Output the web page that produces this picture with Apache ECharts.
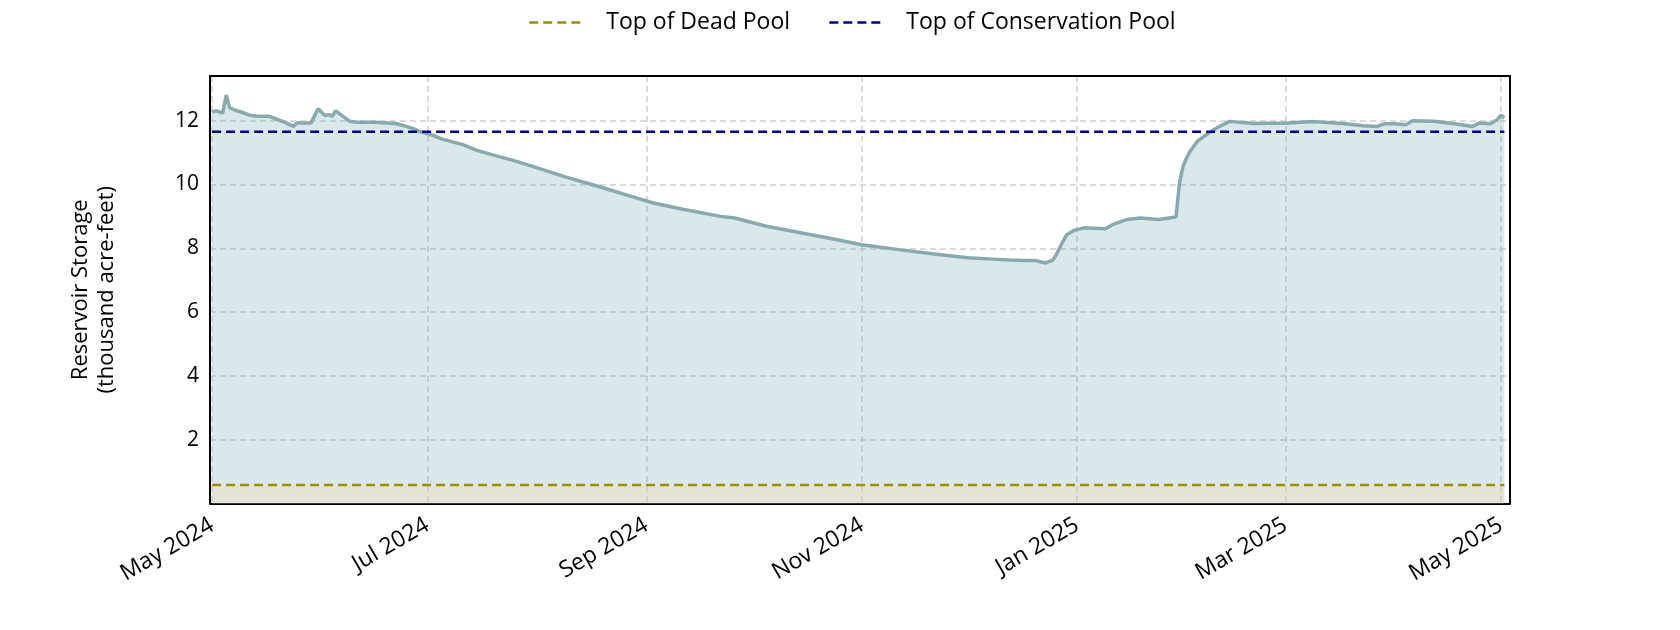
<!DOCTYPE html>
<html>
<head>
<meta charset="utf-8">
<script src="https://cdn.jsdelivr.net/npm/echarts@6/dist/echarts.min.js"></script>
<style>
html,body{margin:0;padding:0;background:#fff;}
#chart{width:1680px;height:630px;}
</style>
</head>
<body>
<div id="chart"></div>
<script>
// ---- data ----
const dates = [
 '2024-05-01','2024-05-02','2024-05-04','2024-05-05','2024-05-06','2024-05-08','2024-05-09','2024-05-12','2024-05-14','2024-05-17',
 '2024-05-19','2024-05-22','2024-05-24','2024-05-25','2024-05-29','2024-05-31','2024-06-02','2024-06-03','2024-06-04','2024-06-05',
 '2024-06-07','2024-06-09','2024-06-11','2024-06-16','2024-06-22','2024-06-25','2024-06-27','2024-06-29','2024-07-02','2024-07-05',
 '2024-07-11','2024-07-15','2024-07-21','2024-07-26','2024-08-02','2024-08-09','2024-08-19','2024-08-27','2024-09-03','2024-09-11',
 '2024-09-22','2024-09-26','2024-10-05','2024-10-15','2024-10-24','2024-11-01','2024-11-12','2024-11-21','2024-11-29','2024-12-01',
 '2024-12-08','2024-12-13','2024-12-17','2024-12-20','2024-12-23','2024-12-25','2024-12-26','2024-12-27','2024-12-29','2024-12-31',
 '2025-01-03','2025-01-09','2025-01-11','2025-01-15','2025-01-19','2025-01-24','2025-01-29','2025-01-30','2025-01-31','2025-02-01',
 '2025-02-02','2025-02-04','2025-02-07','2025-02-08','2025-02-10','2025-02-13','2025-02-14','2025-02-20','2025-02-24','2025-03-01',
 '2025-03-04','2025-03-09','2025-03-13','2025-03-18','2025-03-23','2025-03-27','2025-03-29','2025-04-01','2025-04-04','2025-04-06',
 '2025-04-12','2025-04-18','2025-04-23','2025-04-25','2025-04-28','2025-04-30','2025-05-01','2025-05-02'
];
const storage = [
 12.27,12.31,12.24,12.80,12.40,12.31,12.28,12.16,12.14,12.14,
 12.06,11.93,11.82,11.93,11.93,12.37,12.16,12.19,12.14,12.31,
 12.14,11.98,11.95,11.95,11.91,11.82,11.75,11.65,11.56,11.43,
 11.25,11.07,10.88,10.73,10.49,10.24,9.92,9.65,9.42,9.23,
 9.00,8.95,8.69,8.48,8.29,8.11,7.95,7.83,7.73,7.70,
 7.66,7.63,7.62,7.62,7.54,7.62,7.78,8.01,8.42,8.56,
 8.64,8.61,8.74,8.90,8.95,8.90,8.98,10.05,10.57,10.83,
 11.04,11.35,11.59,11.67,11.80,11.97,11.97,11.91,11.92,11.92,
 11.94,11.97,11.94,11.90,11.84,11.82,11.90,11.90,11.87,12.00,
 11.98,11.90,11.82,11.93,11.90,12.03,12.17,12.09
];
const deadPool = 0.58;
const conservationPool = 11.65;
const tickDates = ['2024-05-01','2024-07-01','2024-09-01','2024-11-01','2025-01-01','2025-03-01','2025-05-01'];
const yTicks = [2,4,6,8,10,12];
const legendNames = ['Top of Dead Pool','Top of Conservation Pool'];
const yTitle = 'Reservoir Storage\n(thousand acre-feet)';

// ---- build ----
function ts(s){ const p = s.split('-').map(Number); return new Date(p[0], p[1]-1, p[2]).getTime(); }
const DAY = 86400000;
const xMin = ts(dates[0]) - 0.6*DAY;
const xMax = ts(dates[dates.length-1]) + 1.6*DAY;
const storageData = dates.map((d,i)=>[ts(d), storage[i]]);
const first = ts(dates[0]), last = ts(dates[dates.length-1]);
const tickVals = tickDates.map(ts);
const MON = ['Jan','Feb','Mar','Apr','May','Jun','Jul','Aug','Sep','Oct','Nov','Dec'];
const FONT = 'Open Sans';

const chart = echarts.init(document.getElementById('chart'));
chart.setOption({
  animation:false,
  backgroundColor:'#fff',
  textStyle:{fontFamily:FONT},
  legend:{
    top:6, left:523, itemGap:38, itemWidth:56, itemHeight:14,
    itemStyle:{opacity:0},
    lineStyle:{width:2.5},
    textStyle:{fontSize:23, color:'#000', fontFamily:FONT, padding:[0,0,0,16]},
    data:legendNames
  },
  grid:{left:210, right:170, top:76, bottom:126.5, containLabel:false},
  xAxis:[{
    type:'value', min:xMin, max:xMax, scale:true,
    axisLine:{show:true, onZero:false, lineStyle:{color:'#000', width:2}},
    axisTick:{show:false, customValues:tickVals},
    splitLine:{show:true, lineStyle:{color:'#cfcfcf', type:[6,4], width:1.5}},
    axisLabel:{
      customValues:tickVals, rotate:30, fontSize:23, color:'#000', margin:20, fontFamily:FONT,
      formatter:function(v){ const d=new Date(v); return MON[d.getMonth()]+' '+d.getFullYear(); }
    }
  },{
    type:'value', position:'top', min:xMin, max:xMax, scale:true,
    axisLine:{show:true, onZero:false, lineStyle:{color:'#000', width:2}},
    axisTick:{show:false}, axisLabel:{show:false}, splitLine:{show:false}
  }],
  yAxis:[{
    type:'value', min:0, max:13.4, interval:2,
    name:yTitle, nameLocation:'middle', nameRotate:90, nameGap:90,
    nameTextStyle:{fontSize:22, color:'#000', lineHeight:26, fontFamily:FONT},
    axisLine:{show:true, onZero:false, lineStyle:{color:'#000', width:2}},
    axisTick:{show:false},
    splitLine:{show:true, lineStyle:{color:'#cfcfcf', type:[6,4], width:1.5}},
    axisLabel:{fontSize:21, color:'#000', margin:11, fontFamily:FONT, showMaxLabel:false,
      formatter:function(v){ return yTicks.indexOf(v)>=0 ? String(v) : ''; }}
  },{
    type:'value', position:'right', min:0, max:13.4,
    axisLine:{show:true, onZero:false, lineStyle:{color:'#000', width:2}},
    axisTick:{show:false}, axisLabel:{show:false}, splitLine:{show:false}
  }],
  series:[
    {
      name:'Storage', type:'line', data:storageData, symbol:'none', z:3,
      lineStyle:{color:'#88a9ae', width:3.5},
      areaStyle:{color:'rgba(118,168,175,0.38)', origin:'start'}
    },
    {
      name:legendNames[0], type:'line', data:[[first,deadPool],[last,deadPool]], symbol:'none', z:4,
      lineStyle:{color:'#9a8c0c', width:2.5, type:[9,5]},
      itemStyle:{color:'#9a8c0c'},
      areaStyle:{color:'rgba(246,217,177,0.5)', origin:'start'}
    },
    {
      name:legendNames[1], type:'line', data:[[first,conservationPool],[last,conservationPool]], symbol:'none', z:5,
      lineStyle:{color:'#00008b', width:2.5, type:[9,5]},
      itemStyle:{color:'#00008b'}
    }
  ]
});
</script>
</body>
</html>
